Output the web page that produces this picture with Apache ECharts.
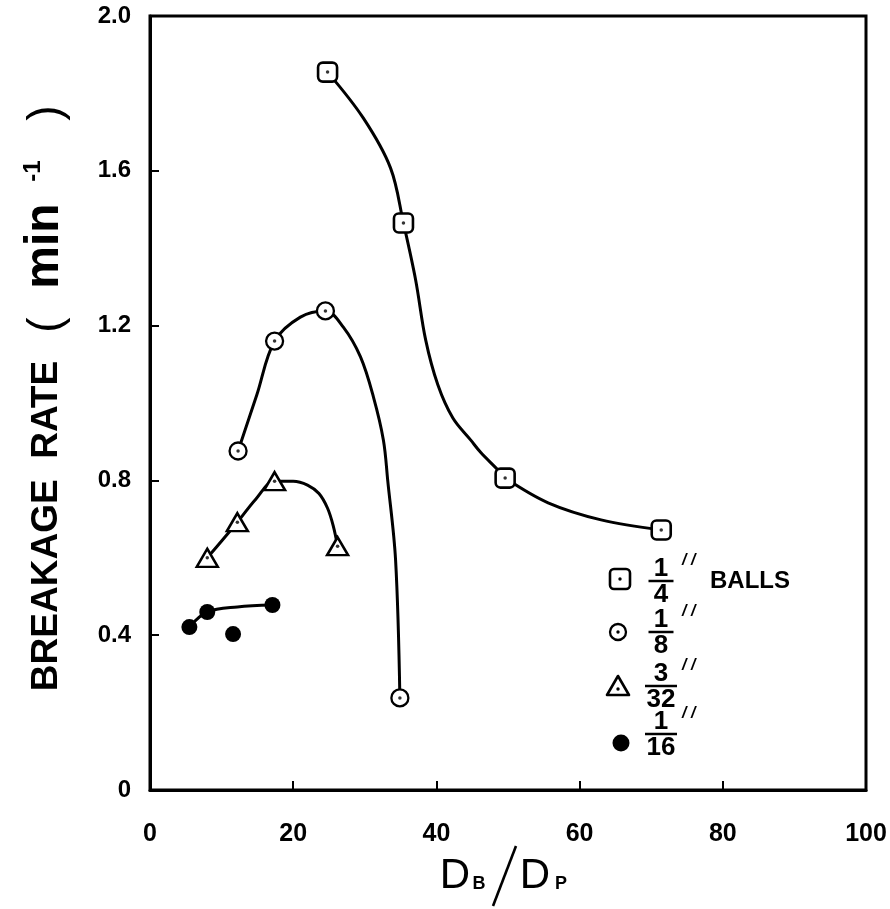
<!DOCTYPE html>
<html>
<head>
<meta charset="utf-8">
<script src="https://cdn.jsdelivr.net/npm/echarts@6/dist/echarts.min.js"></script>
<style>html,body{margin:0;padding:0;background:#fff}#c{width:890px;height:909px}</style>
</head>
<body>
<div id="c"></div>
<script>
// ---- data ----
const xTicks = [0, 20, 40, 60, 80, 100];
const yTicks = [0, 0.4, 0.8, 1.2, 1.6, 2.0];

// measured points (D_B/D_P, breakage rate)
const ballQuarterX = [24.8, 35.4, 49.6, 71.4];
const ballQuarterY = [1.855, 1.465, 0.806, 0.672];
const ballEighthX = [12.3, 17.4, 24.5, 34.9];
const ballEighthY = [0.876, 1.160, 1.238, 0.238];
const ball332X = [8.0, 12.2, 17.4, 26.2];
const ball332Y = [0.600, 0.692, 0.798, 0.630];
const ballSixteenthX = [5.5, 8.0, 11.6, 17.1];
const ballSixteenthY = [0.421, 0.460, 0.403, 0.478];

// hand-drawn fitted curves
const curveQuarter = [[24.8,1.855],[29.8,1.736],[33.6,1.607],[35.4,1.465],[37.1,1.318],[38.5,1.163],[40.2,1.047],[42.3,0.961],[44.8,0.904],[46.2,0.872],[48.6,0.827],[49.6,0.806],[55.6,0.742],[63.0,0.698],[71.4,0.672]];
const curveEighth = [[12.3,0.876],[14.9,1.02],[17.4,1.160],[21.0,1.222],[24.5,1.238],[27.0,1.196],[29.4,1.119],[31.2,1.016],[32.6,0.904],[33.2,0.80],[34.3,0.594],[34.9,0.238]];
const curve332 = [[8.0,0.600],[12.2,0.692],[14.8,0.752],[17.4,0.798],[20.0,0.798],[22.0,0.788],[23.6,0.766],[24.8,0.728],[25.6,0.682],[26.2,0.630]];
const curveSixteenth = [[5.5,0.421],[8.0,0.460],[12.2,0.473],[17.1,0.478]];

const legendLabels = [['1','4'],['1','8'],['3','32'],['1','16']];
const legendSuffix = 'BALLS';
// ---------------------------------------

const zip = (xs, ys) => xs.map((x, i) => [x, ys[i]]);
const chart = echarts.init(document.getElementById('c'), null, {renderer: 'canvas'});
const FONT = '"Liberation Sans", Arial, Helvetica, sans-serif';

function lineSeries(data) {
  return { type: 'line', data, smooth: 0.35, showSymbol: false, symbol: 'none',
    lineStyle: { color: '#000', width: 3 }, z: 2, silent: true };
}
function markerSeries(data, symbol, size, fill, bw) {
  return { type: 'scatter', data, symbol, symbolSize: size,
    itemStyle: { color: fill, borderColor: '#000', borderWidth: bw, opacity: 1 }, z: 3, silent: true };
}
function dotSeries(data) {
  return { type: 'scatter', data, symbol: 'circle', symbolSize: 3.5,
    itemStyle: { color: '#000' }, z: 4, silent: true };
}

const q = zip(ballQuarterX, ballQuarterY);
const e = zip(ballEighthX, ballEighthY);
const t = zip(ball332X, ball332Y);
const s = zip(ballSixteenthX, ballSixteenthY);

// legend drawn as graphic elements
const legend = [];
const legRows = [
  {y: 581, ym: 579, kind: 'square'},
  {y: 632, ym: 632, kind: 'circle'},
  {y: 686, ym: 687, kind: 'triangle'},
  {y: 734, ym: 743, kind: 'filled'}
];
const mx = 620, fx = 661;
legRows.forEach((r, i) => {
  if (r.kind === 'square') {
    legend.push({type:'rect', shape:{x:mx-10,y:r.ym-10,width:20,height:20,r:4}, style:{fill:'#fff',stroke:'#000',lineWidth:2.6}});
    legend.push({type:'circle', shape:{cx:mx,cy:r.ym,r:1.7}, style:{fill:'#000'}});
  } else if (r.kind === 'circle') {
    legend.push({type:'circle', shape:{cx:mx-2,cy:r.ym,r:8}, style:{fill:'#fff',stroke:'#000',lineWidth:2.3}});
    legend.push({type:'circle', shape:{cx:mx-2,cy:r.ym,r:1.7}, style:{fill:'#000'}});
  } else if (r.kind === 'triangle') {
    legend.push({type:'polygon', shape:{points:[[mx-2,r.ym-11],[mx+9,r.ym+8],[mx-13,r.ym+8]]}, style:{fill:'#fff',stroke:'#000',lineWidth:2.6,lineJoin:'round'}});
    legend.push({type:'circle', shape:{cx:mx-2,cy:r.ym+2,r:1.7}, style:{fill:'#000'}});
  } else {
    legend.push({type:'circle', shape:{cx:mx+1,cy:r.ym,r:8.5}, style:{fill:'#000'}});
  }
  const lab = legendLabels[i];
  const w = lab[1].length > 1 ? 32 : 25;
  legend.push({type:'text', style:{text:lab[0], x:fx, y:r.y + 1, fill:'#000', font:'bold 26px ' + FONT, align:'center', verticalAlign:'bottom'}});
  legend.push({type:'line', shape:{x1:fx-w/2, y1:r.y, x2:fx+w/2, y2:r.y}, style:{stroke:'#000', lineWidth:2.5}});
  legend.push({type:'text', style:{text:lab[1], x:fx, y:r.y + 1, fill:'#000', font:'bold 26px ' + FONT, align:'center', verticalAlign:'top'}});
  legend.push({type:'text', style:{text:'/ /', x:fx+21, y:r.y-20, fill:'#000', font:'italic bold 16px ' + FONT, align:'left', verticalAlign:'middle'}});
  if (i === 0) {
    legend.push({type:'text', style:{text:legendSuffix, x:710, y:r.y, fill:'#000', font:'bold 24px ' + FONT, align:'left', verticalAlign:'middle'}});
  }
});

const option = {
  backgroundColor: '#fff',
  animation: false,
  grid: { left: 150, right: 24, top: 16, bottom: 119, show: true, borderColor: '#000', borderWidth: 3, backgroundColor: 'transparent' },
  xAxis: {
    type: 'value', min: xTicks[0], max: xTicks[xTicks.length-1], interval: 20,
    axisLine: { show: true, onZero: false, lineStyle: { color: '#000', width: 3 } },
    axisTick: { show: true, inside: true, length: 9, lineStyle: { color: '#000', width: 2 } },
    splitLine: { show: false },
    axisLabel: { color: '#000', fontFamily: FONT, fontWeight: 'bold', fontSize: 25, margin: 32 }
  },
  yAxis: {
    type: 'value', min: yTicks[0], max: yTicks[yTicks.length-1], interval: 0.4,
    axisLine: { show: true, onZero: false, lineStyle: { color: '#000', width: 3 } },
    axisTick: { show: true, inside: true, length: 9, lineStyle: { color: '#000', width: 2 } },
    splitLine: { show: false },
    axisLabel: { color: '#000', fontFamily: FONT, fontWeight: 'bold', fontSize: 24, margin: 19,
      formatter: v => v === 0 ? '0' : v.toFixed(1) }
  },
  graphic: [
    { type: 'text', x: 47, y: 526, rotation: Math.PI / 2, z: 10,
      style: { text: 'BREAKAGE  RATE', align: 'center', verticalAlign: 'middle', fill: '#000',
        font: 'bold 37px ' + FONT } },
    { type: 'text', x: 47, y: 325, rotation: Math.PI / 2, z: 10,
      style: { text: '(', align: 'center', verticalAlign: 'middle', fill: '#000', font: '46px ' + FONT } },
    { type: 'text', x: 45, y: 246, rotation: Math.PI / 2, z: 10,
      style: { text: 'min', align: 'center', verticalAlign: 'middle', fill: '#000', font: 'bold 48px ' + FONT } },
    { type: 'text', x: 33, y: 171, rotation: Math.PI / 2, z: 10,
      style: { text: '-1', align: 'center', verticalAlign: 'middle', fill: '#000', font: 'bold 24px ' + FONT } },
    { type: 'text', x: 47, y: 113, rotation: Math.PI / 2, z: 10,
      style: { text: ')', align: 'center', verticalAlign: 'middle', fill: '#000', font: '46px ' + FONT } },
    { type: 'text', z: 10, style: { text: 'D', x: 455, y: 876, align: 'center', verticalAlign: 'middle', fill: '#000', font: '42px ' + FONT } },
    { type: 'text', z: 10, style: { text: 'B', x: 479, y: 884, align: 'center', verticalAlign: 'middle', fill: '#000', font: 'bold 18px ' + FONT } },
    { type: 'line', z: 10, shape: { x1: 516, y1: 846, x2: 493, y2: 906 }, style: { stroke: '#000', lineWidth: 2.6 } },
    { type: 'text', z: 10, style: { text: 'D', x: 535, y: 876, align: 'center', verticalAlign: 'middle', fill: '#000', font: '42px ' + FONT } },
    { type: 'text', z: 10, style: { text: 'P', x: 561, y: 884, align: 'center', verticalAlign: 'middle', fill: '#000', font: 'bold 18px ' + FONT } },
    ...legend
  ],
  series: [
    lineSeries(curveQuarter),
    lineSeries(curveEighth),
    lineSeries(curve332),
    lineSeries(curveSixteenth),
    markerSeries(q, 'roundRect', 19, '#fff', 2.6),
    dotSeries(q),
    markerSeries(e, 'circle', 17, '#fff', 2.3),
    dotSeries(e),
    markerSeries(t, 'triangle', [21, 18], '#fff', 2.5),
    dotSeries(t),
    markerSeries(s, 'circle', 16, '#000', 0)
  ]
};
chart.setOption(option);
</script>
</body>
</html>
